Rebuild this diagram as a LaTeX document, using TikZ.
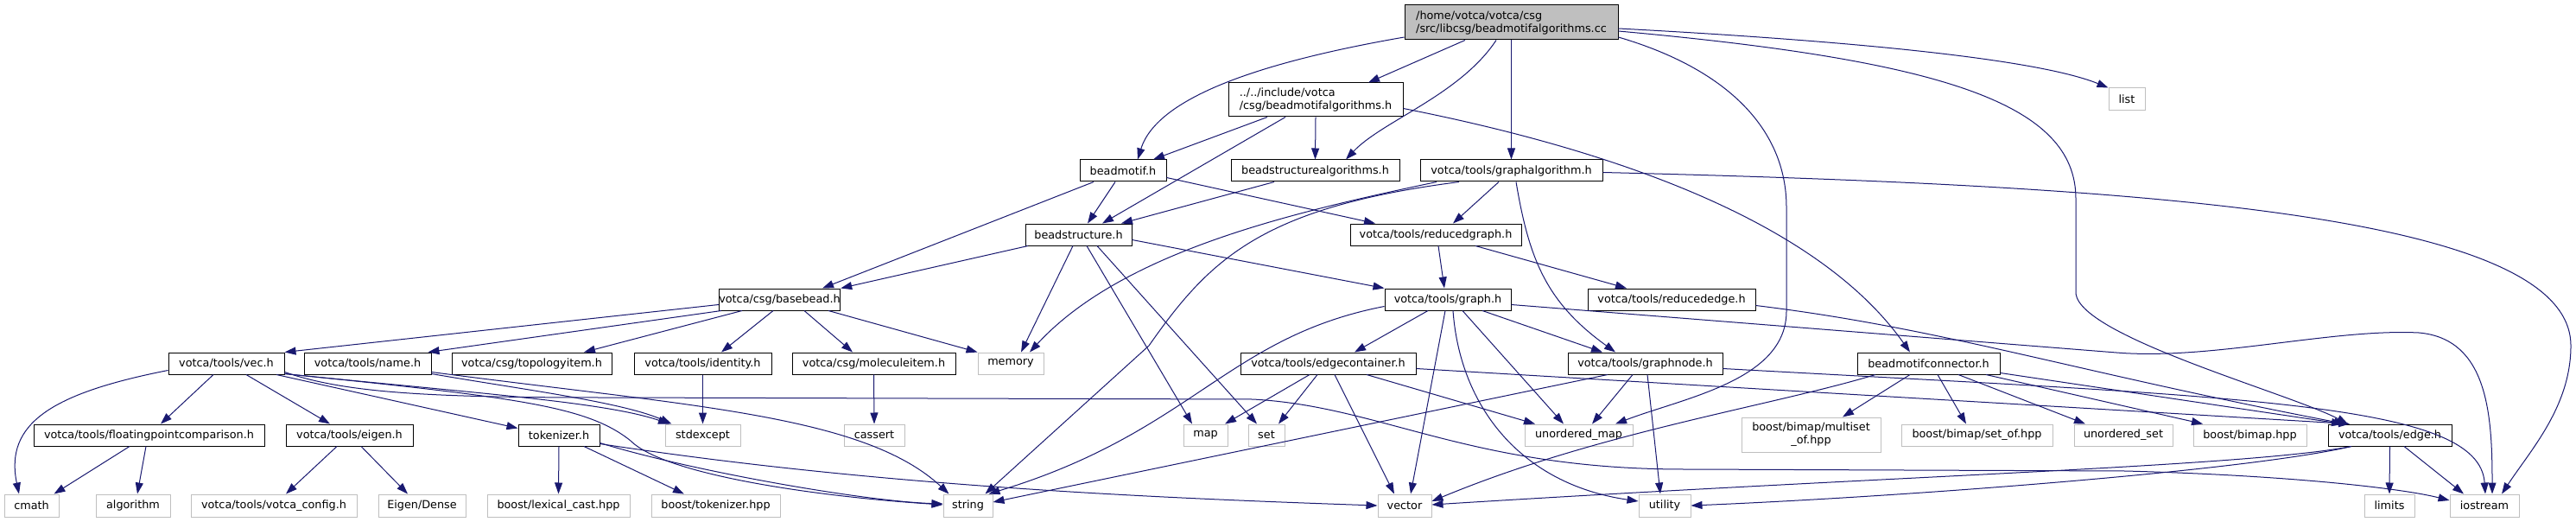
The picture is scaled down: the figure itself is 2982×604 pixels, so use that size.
\documentclass[tikz,border=0pt]{standalone}
\usepackage{fontspec}
\setmainfont{DejaVu Sans}
\usetikzlibrary{arrows.meta}
\definecolor{edgec}{HTML}{191970}
\definecolor{grayb}{HTML}{BFBFBF}
\tikzset{
  box/.style={draw=black, line width=1pt, inner sep=0pt, minimum height=25pt, text=black,
    font=\fontsize{12.8}{15}\selectfont},
  sysbox/.style={box, draw=grayb},
  mainbox/.style={box, fill=grayb},
  dep/.style={draw=edgec, line width=1pt, -{Triangle[length=13pt,width=9pt]}}
}
\begin{document}
\begin{tikzpicture}[x=1pt,y=-1pt]
\useasboundingbox (0,0) rectangle (2982,604);
\fill[white] (0,0) rectangle (2982,604);
% row 1-2
\node[mainbox, minimum width=247pt, minimum height=40pt, align=left] (main) at (1749.5,26) {/home/votca/votca/csg\\/src/libcsg/beadmotifalgorithms.cc};
\node[box, minimum width=202pt, minimum height=39pt, align=left] (bmalgh) at (1523,115.5) {../../include/votca\\/csg/beadmotifalgorithms.h};
\node[sysbox, minimum width=42pt, minimum height=26pt] (list) at (2462,115) {list};
% row 3
\node[box, minimum width=100pt] (beadmotif) at (1300,197.5) {beadmotif.h};
\node[box, minimum width=195pt] (bsalg) at (1522.5,197.5) {beadstructurealgorithms.h};
\node[box, minimum width=211pt] (galg) at (1749.5,197.5) {votca/tools/graphalgorithm.h};
% row 4
\node[box, minimum width=123pt] (bstruct) at (1248.5,271.5) {beadstructure.h};
\node[box, minimum width=198pt] (redgraph) at (1662,271.5) {votca/tools/reducedgraph.h};
% row 5
\node[box, minimum width=139pt] (basebead) at (902.5,346.5) {votca/csg/basebead.h};
\node[box, minimum width=146pt] (graph) at (1676,346.5) {votca/tools/graph.h};
\node[box, minimum width=194pt] (rededge) at (1935,346.5) {votca/tools/reducededge.h};
% row 6
\node[box, minimum width=134pt] (vec) at (262,420.5) {votca/tools/vec.h};
\node[box, minimum width=147pt] (name) at (425.5,420.5) {votca/tools/name.h};
\node[box, minimum width=185pt] (topo) at (615.5,420.5) {votca/csg/topologyitem.h};
\node[box, minimum width=159pt] (identity) at (813.5,420.5) {votca/tools/identity.h};
\node[box, minimum width=189pt] (molitem) at (1011.5,420.5) {votca/csg/moleculeitem.h};
\node[sysbox, minimum width=76pt] (memory) at (1170,420.5) {memory};
\node[box, minimum width=203pt] (edgecont) at (1537.5,420.5) {votca/tools/edgecontainer.h};
\node[box, minimum width=179pt] (graphnode) at (1904.5,420.5) {votca/tools/graphnode.h};
\node[box, minimum width=165pt] (bmconn) at (2232.5,420.5) {beadmotifconnector.h};
% row 7
\node[box, minimum width=267pt] (fpc) at (172.5,503.5) {votca/tools/floatingpointcomparison.h};
\node[box, minimum width=147pt] (eigen) at (404.5,503.5) {votca/tools/eigen.h};
\node[box, minimum width=94pt] (tokenizer) at (647,503.5) {tokenizer.h};
\node[sysbox, minimum width=87pt] (stdexcept) at (813.5,503.5) {stdexcept};
\node[sysbox, minimum width=70pt] (cassert) at (1012,503.5) {cassert};
\node[sysbox, minimum width=51pt] (map) at (1395.5,503.5) {map};
\node[sysbox, minimum width=42pt] (set) at (1466,503.5) {set};
\node[sysbox, minimum width=125pt] (umap) at (1827.5,503.5) {unordered\_map};
\node[sysbox, minimum width=161pt, minimum height=40pt, align=center] (multiset) at (2096.5,503) {boost/bimap/multiset\\\_of.hpp};
\node[sysbox, minimum width=175pt] (setof) at (2288.5,503.5) {boost/bimap/set\_of.hpp};
\node[sysbox, minimum width=114pt] (uset) at (2458,503.5) {unordered\_set};
\node[sysbox, minimum width=131pt] (bimap) at (2604.5,503.5) {boost/bimap.hpp};
\node[box, minimum width=143pt] (edge) at (2766.5,503.5) {votca/tools/edge.h};
% row 8
\node[sysbox, minimum width=63pt, minimum height=26pt] (cmath) at (36.5,585) {cmath};
\node[sysbox, minimum width=86pt, minimum height=26pt] (algorithm) at (154,585) {algorithm};
\node[sysbox, minimum width=192pt, minimum height=26pt] (vconfig) at (317,585) {votca/tools/votca\_config.h};
\node[sysbox, minimum width=101pt, minimum height=26pt] (eigendense) at (488.5,585) {Eigen/Dense};
\node[sysbox, minimum width=165pt, minimum height=26pt] (lexcast) at (646.5,585) {boost/lexical\_cast.hpp};
\node[sysbox, minimum width=149pt, minimum height=26pt] (btok) at (828.5,585) {boost/tokenizer.hpp};
\node[sysbox, minimum width=57pt, minimum height=26pt] (string) at (1120.5,585) {string};
\node[sysbox, minimum width=62pt, minimum height=26pt] (vector) at (1626,585) {vector};
\node[sysbox, minimum width=60pt, minimum height=26pt] (utility) at (1927,585) {utility};
\node[sysbox, minimum width=58pt, minimum height=26pt] (limits) at (2766,585) {limits};
\node[sysbox, minimum width=80pt, minimum height=26pt] (iostream) at (2876,585) {iostream};

% edges from main
\draw[dep] ([xshift=-53.5pt]main.south) -- ([xshift=61pt]bmalgh.north);
\draw[dep] ([yshift=-17pt]main.west) .. controls (1470,70) and (1340,110) .. ([xshift=17pt]beadmotif.north);
\draw[dep] ([xshift=-17.5pt]main.south) .. controls (1690,110) and (1600,140) .. ([xshift=35.5pt]bsalg.north);
\draw[dep] (main.south) -- (galg.north);
\draw[dep] ([yshift=-7pt]main.east) .. controls (2100,45) and (2350,65) .. (list.north west);
\draw[dep] ([yshift=-10pt]main.east) .. controls (2250,70) and (2403,120) .. (2403,230) -- (2403,340) .. controls (2410,390) and (2650,455) .. ([xshift=-48.5pt]edge.north);
\draw[dep] ([yshift=-17pt]main.east) .. controls (2000,80) and (2068,150) .. (2068,240) -- (2068,360) .. controls (2068,440) and (1950,460) .. ([xshift=42.5pt]umap.north);
% bmalgh
\draw[dep] ([xshift=-56pt]bmalgh.south) -- ([xshift=35pt]beadmotif.north);
\draw[dep] (bmalgh.south) -- (bsalg.north);
\draw[dep] ([xshift=-35pt]bmalgh.south) -- ([xshift=27.5pt]bstruct.north);
\draw[dep] ([yshift=-10pt]bmalgh.east) .. controls (1850,170) and (2100,250) .. ([xshift=-21.5pt]bmconn.north);
% beadmotif
\draw[dep] ([xshift=-9pt]beadmotif.south) -- ([xshift=10.5pt]bstruct.north);
\draw[dep] ([xshift=-34pt]beadmotif.south) -- ([xshift=49.5pt]basebead.north);
\draw[dep] ([yshift=-8pt]beadmotif.east) -- ([xshift=-70pt]redgraph.north);
% bsalg
\draw[dep] ([xshift=-47.5pt]bsalg.south) -- ([xshift=49.5pt]bstruct.north);
% galg
\draw[dep] ([xshift=-14.5pt]galg.south) -- ([xshift=20pt]redgraph.north);
\draw[dep] ([xshift=-86.5pt]galg.south) .. controls (1500,245) and (1300,290) .. ([xshift=22pt]memory.north);
\draw[dep] ([xshift=-60.5pt]galg.south) .. controls (1460,240) and (1400,300) .. (1330,400) -- ([xshift=20pt]string.north);
\draw[dep] ([xshift=5.5pt]galg.south) .. controls (1770,300) and (1790,350) .. ([xshift=-34.5pt]graphnode.north);
\draw[dep] ([yshift=-2pt]galg.east) .. controls (2500,215) and (2976,250) .. (2976,400) .. controls (2976,470) and (2930,520) .. ([xshift=20pt]iostream.north);
% bstruct
\draw[dep] ([xshift=-58.5pt]bstruct.south) -- (basebead.north east);
\draw[dep] ([xshift=-6.5pt]bstruct.south) -- ([xshift=12pt]memory.north);
\draw[dep] ([xshift=9.5pt]bstruct.south) -- ([xshift=-15.5pt]map.north);
\draw[dep] ([xshift=21.5pt]bstruct.south) -- ([xshift=-11pt]set.north);
\draw[dep] ([yshift=-6pt]bstruct.east) -- (graph.north west);
% redgraph
\draw[dep] ([xshift=3pt]redgraph.south) -- ([xshift=-4pt]graph.north);
\draw[dep] ([xshift=46pt]redgraph.south) -- ([xshift=-52pt]rededge.north);
% basebead
\draw[dep] ([yshift=-6pt]basebead.west) -- (vec.north east);
\draw[dep] ([xshift=-67.5pt]basebead.south) -- ([xshift=70pt]name.north);
\draw[dep] ([xshift=-43.5pt]basebead.south) -- ([xshift=60.5pt]topo.north);
\draw[dep] ([xshift=-7.5pt]basebead.south) -- ([xshift=21.5pt]identity.north);
\draw[dep] ([xshift=28.5pt]basebead.south) -- ([xshift=-24.5pt]molitem.north);
\draw[dep] ([xshift=56.5pt]basebead.south) -- (memory.north west);
% graph
\draw[dep] ([xshift=-23pt]graph.south) -- ([xshift=30.5pt]edgecont.north);
\draw[dep] ([xshift=40pt]graph.south) -- ([xshift=-49.5pt]graphnode.north);
\draw[dep] ([xshift=-3pt]graph.south) -- ([xshift=7pt]vector.north);
\draw[dep] ([xshift=6pt]graph.south) .. controls (1690,470) and (1760,560) .. ([yshift=5pt]utility.west);
\draw[dep] ([xshift=17pt]graph.south) -- ([xshift=-17.5pt]umap.north);
\draw[dep] ([yshift=-6pt]graph.east) -- (2450,408) .. controls (2560,417) and (2700,380) .. (2800,385) .. controls (2880,392) and (2885,480) .. ([xshift=9pt]iostream.north);
\draw[dep] ([yshift=-8pt]graph.west) .. controls (1420,390) and (1380,500) .. ([xshift=24pt]string.north);
% rededge
\draw[dep] ([yshift=-7pt]rededge.east) .. controls (2250,380) and (2400,430) .. ([xshift=-51.5pt]edge.north);
% vec
\draw[dep] ([xshift=-15pt]vec.south) -- ([xshift=13.5pt]fpc.north);
\draw[dep] ([xshift=23pt]vec.south) -- ([xshift=-22.5pt]eigen.north);
\draw[dep] ([xshift=58pt]vec.south) -- ([yshift=8pt]tokenizer.west);
\draw[dep] ([yshift=-8pt]vec.west) .. controls (60,455) and (5,490) .. ([xshift=-14.5pt]cmath.north);
\draw[dep] ([yshift=-12pt]vec.east) .. controls (550,455) and (700,465) .. ([xshift=-38.5pt]stdexcept.north);
\draw[dep] ([yshift=-12pt]vec.east) .. controls (600,460) and (680,470) .. (730,510) .. controls (770,550) and (950,575) .. ([yshift=1pt]string.west);
\draw[dep] ([yshift=-10pt]vec.east) .. controls (400,455) and (500,460) .. (700,460) -- (1450,462) .. controls (1600,470) and (1700,543) .. (1950,543) -- (2460,545) .. controls (2650,550) and (2780,565) .. ([yshift=6pt]iostream.west);
% name
\draw[dep] ([yshift=-12pt]name.east) .. controls (600,450) and (720,465) .. ([xshift=-36pt]stdexcept.north);
\draw[dep] ([yshift=-10pt]name.east) .. controls (800,470) and (1000,480) .. ([xshift=-22pt]string.north);
% identity, molitem
\draw[dep] (identity.south) -- (stdexcept.north);
\draw[dep] (molitem.south) -- (cassert.north);
% edgecont
\draw[dep] ([xshift=-21.5pt]edgecont.south) -- ([xshift=22.5pt]map.north);
\draw[dep] ([xshift=-12.5pt]edgecont.south) -- ([xshift=14pt]set.north);
\draw[dep] ([xshift=7.5pt]edgecont.south) -- ([xshift=-12pt]vector.north);
\draw[dep] ([xshift=44.5pt]edgecont.south) -- ([xshift=-50.5pt]umap.north);
\draw[dep] ([yshift=-6pt]edgecont.east) -- ([xshift=-46.5pt]edge.north);
% graphnode
\draw[dep] ([xshift=-14.5pt]graphnode.south) -- ([xshift=15.5pt]umap.north);
\draw[dep] ([xshift=2.5pt]graphnode.south) -- ([xshift=-5pt]utility.north);
\draw[dep] ([xshift=-43.5pt]graphnode.south) -- ([yshift=4pt]string.east);
\draw[dep] ([yshift=-6pt]graphnode.east) .. controls (2600,460) and (2870,465) .. ([xshift=1pt]iostream.north);
% bmconn
\draw[dep] ([xshift=-21.5pt]bmconn.south) -- ([xshift=36.5pt]multiset.north);
\draw[dep] ([xshift=10.5pt]bmconn.south) -- ([xshift=-12.5pt]setof.north);
\draw[dep] ([xshift=34.5pt]bmconn.south) -- ([xshift=-44pt]uset.north);
\draw[dep] ([xshift=66.5pt]bmconn.south) -- ([xshift=-54.5pt]bimap.north);
\draw[dep] ([yshift=-11pt]bmconn.east) -- ([xshift=-54.5pt]edge.north);
\draw[dep] ([xshift=-61.5pt]bmconn.south) .. controls (2050,470) and (1850,500) .. ([yshift=5pt]vector.east);
% fpc, eigen
\draw[dep] ([xshift=-22.5pt]fpc.south) -- ([xshift=26pt]cmath.north);
\draw[dep] ([xshift=-3.5pt]fpc.south) -- ([xshift=5pt]algorithm.north);
\draw[dep] ([xshift=-14.5pt]eigen.south) -- ([xshift=14pt]vconfig.north);
\draw[dep] ([xshift=13.5pt]eigen.south) -- ([xshift=-16.5pt]eigendense.north);
% tokenizer
\draw[dep] (tokenizer.south) -- (lexcast.north);
\draw[dep] ([xshift=29pt]tokenizer.south) -- ([xshift=-36.5pt]btok.north);
\draw[dep] ([yshift=-9pt]tokenizer.east) .. controls (800,545) and (1000,580) .. ([yshift=2pt]string.west);
\draw[dep] ([yshift=-10pt]tokenizer.east) .. controls (1000,560) and (1300,575) .. (vector.west);
% edge
\draw[dep] (edge.south) -- (limits.north);
\draw[dep] ([xshift=16.5pt]edge.south) -- ([xshift=-24pt]iostream.north);
\draw[dep] ([xshift=-44.5pt]edge.south) .. controls (2600,540) and (2200,550) .. ([yshift=1pt]vector.east);
\draw[dep] ([xshift=-44.5pt]edge.south) .. controls (2600,545) and (2200,575) .. (utility.east);
\end{tikzpicture}
\end{document}
